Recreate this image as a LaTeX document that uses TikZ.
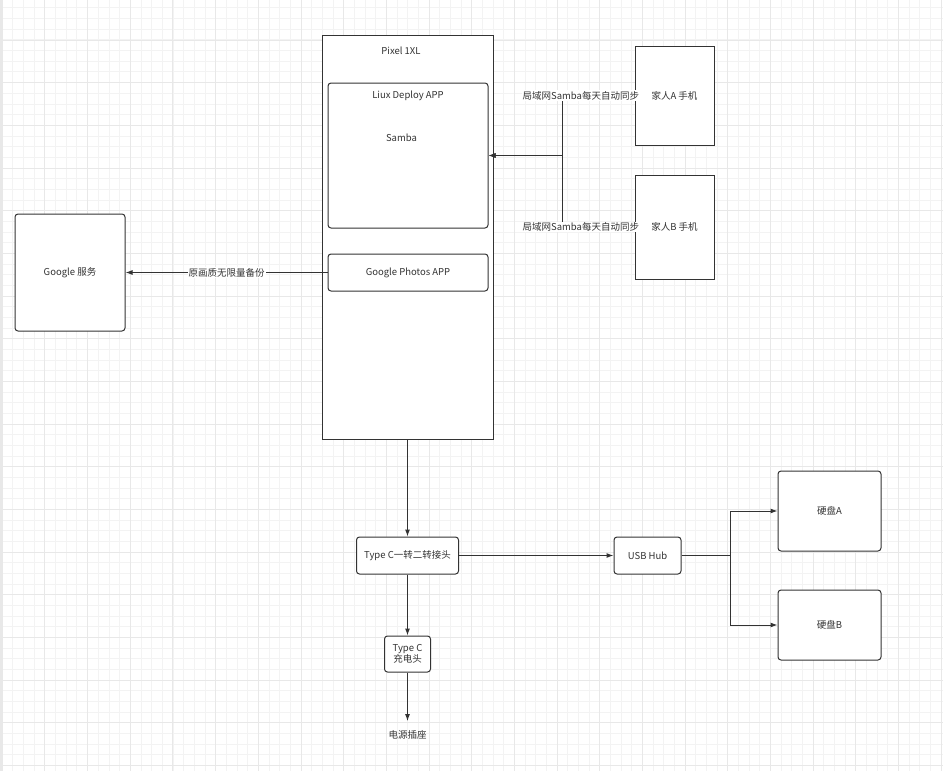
\documentclass[tikz,border=0pt]{standalone}
\usepackage{fontspec}
\setmainfont{Noto Sans CJK SC}
\usetikzlibrary{arrows.meta}
\definecolor{ink}{HTML}{333333}
\definecolor{gridminor}{HTML}{F3F3F3}
\definecolor{gridmajor}{HTML}{E8E8E8}

\begin{document}
\begin{tikzpicture}[x=1pt,y=-1pt,>={Latex[length=7pt,width=5pt]},
    font=\fontsize{9.5}{11}\selectfont,
    every node/.style={text=ink},
    box/.style={draw=ink,fill=white,line width=1pt,inner sep=0pt},
    rbox/.style={box,rounded corners=3pt},
    flow/.style={draw=ink,line width=1pt},
    note/.style={fill=white,inner sep=1pt}]
  % background grid
  \useasboundingbox (0,0) rectangle (943,771);
  \fill[white] (0,0) rectangle (943,771);
  \foreach \i in {0,...,88}
    \draw[gridminor,line width=1pt] ({2.33+\i*10.667},0) -- ({2.33+\i*10.667},771);
  \foreach \j in {1,...,73}
    \draw[gridminor,line width=1pt] (0,{-2.67+\j*10.667}) -- (943,{-2.67+\j*10.667});
  \foreach \i in {0,...,22}
    \draw[gridmajor,line width=1pt] ({2.33+\i*42.667},0) -- ({2.33+\i*42.667},771);
  \foreach \j in {0,...,17}
    \draw[gridmajor,line width=1pt] (0,{40+\j*42.667}) -- (943,{40+\j*42.667});
  \fill[gridmajor] (0,0) rectangle (3,771);

  % phone and its apps
  \node[box,minimum width=171pt,minimum height=404pt] (pixel) at (407.5,237) {};
  \node (pixeltitle) at (401,51) {Pixel 1XL};
  \node[rbox,minimum width=160pt,minimum height=145pt] (liux) at (408,155.5) {};
  \node (liuxtitle) at (408,96) {Liux Deploy APP};
  \node (samba) at (401.5,138) {Samba};
  \node[rbox,minimum width=160pt,minimum height=37pt] (photos) at (408,272.5) {Google Photos APP};

  \node[rbox,minimum width=110pt,minimum height=117pt] (google) at (70,272.5) {Google 服务};
  \node[box,minimum width=79pt,minimum height=99pt] (famA) at (674.5,95.5) {家人A 手机};
  \node[box,minimum width=79pt,minimum height=104pt] (famB) at (674.5,227) {家人B 手机};

  % hardware chain
  \node[rbox,minimum width=102pt,minimum height=37pt] (adapter) at (407.5,555.5) {Type C一转二转接头};
  \node[rbox,minimum width=67pt,minimum height=37pt] (hub) at (647.5,555.5) {USB Hub};
  \node[rbox,minimum width=103pt,minimum height=80pt] (diskA) at (829.5,511) {硬盘A};
  \node[rbox,minimum width=103pt,minimum height=70pt] (diskB) at (829.5,625) {硬盘B};
  \node[rbox,minimum width=46pt,minimum height=36pt,align=center] (charger) at (407.5,654) {Type C\\充电头};
  \node (socket) at (407.5,735) {电源插座};

  \coordinate (sync) at (562,155.5);
  \coordinate (split) at (730,555.5);

  \draw[flow,->] (photos.west) -- (google.east)
    node[note,midway] {原画质无限量备份};
  \draw[flow,->] (famA.west) -| (sync) node[note,pos=0.37] {局域网Samba每天自动同步}
    -- (liux.east);
  \draw[flow,->] (famB.west) -| (sync) node[note,pos=0.37] {局域网Samba每天自动同步}
    -- (liux.east);

  \draw[flow,->] (pixel.south) -- (adapter.north);
  \draw[flow,->] (adapter.east) -- (hub.west);
  \draw[flow,->] (hub.east) -- (split) |- (diskA.west);
  \draw[flow,->] (hub.east) -- (split) |- (diskB.west);
  \draw[flow,->] (adapter.south) -- (charger.north);
  \draw[flow,->,shorten >=6pt] (charger.south) -- (socket.north);
\end{tikzpicture}
\end{document}
